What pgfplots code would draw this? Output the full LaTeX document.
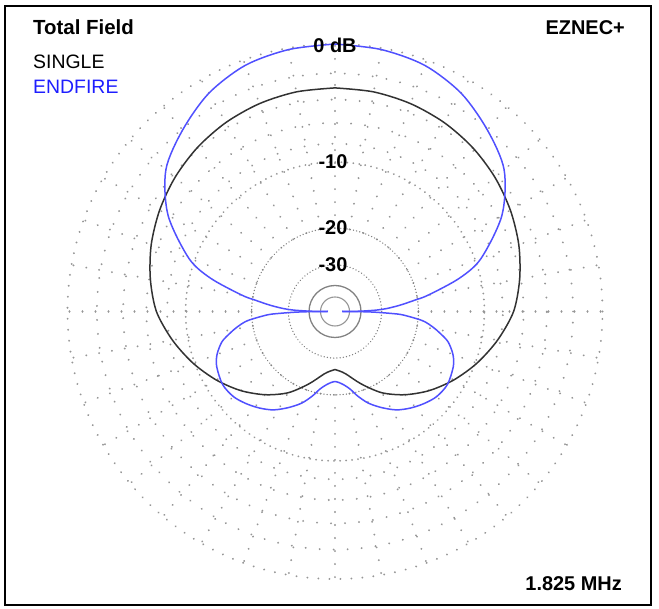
\documentclass[border=0pt]{standalone}
\usepackage{pgfplots}
\pgfplotsset{compat=1.18}
\usepackage{pgfplotstable}
\usepackage{fontspec}
\setmainfont{Liberation Sans}
\definecolor{efblue}{RGB}{80,80,255}
\definecolor{txtblue}{RGB}{30,30,255}
\definecolor{gridgray}{RGB}{150,150,150}
\definecolor{ringgray}{RGB}{130,130,130}
\definecolor{curveblack}{RGB}{50,50,50}

% azimuth (deg, math convention, left half 90..270) and field (dB), ARRL log scale
\pgfplotstableread{
az db
90 -3.08
100 -3.13
110 -3.27
120 -3.50
130 -3.83
140 -4.26
150 -4.78
160 -5.38
170 -6.10
180 -6.94
190 -8.29
200 -9.81
210 -11.48
220 -13.33
230 -15.47
240 -17.98
250 -21.33
260 -24.68
265 -25.65
270 -26.24
}\single

\pgfplotstableread{
az db
90 0.0
100 -0.10
110 -0.36
120 -1.02
130 -2.08
140 -3.30
150 -5.62
160 -9.31
165 -12.52
170 -17.80
172 -20.72
174.5 -24.28
176.7 -28.11
178 -31.78
179 -38.13
179.5 -44.08
180 -62.5
}\endup

\pgfplotstableread{
az db
180 -62.5
180.5 -38.73
181 -32.61
182 -26.69
182.9 -23.51
186 -19.08
189 -17.06
191.6 -15.73
195 -14.19
200 -12.99
205 -12.32
213 -11.86
220 -12.06
226 -12.65
232 -13.40
238 -14.34
244 -15.73
250 -17.32
255 -19.18
259 -20.93
263 -22.05
267 -22.76
270 -23.01
}\endlow

\newcommand\rr{267.5*exp(0.058267*\thisrow{db})}

\begin{document}
\begin{tikzpicture}
\begin{axis}[width=659bp, height=609bp, scale only axis,
  xmin=0, xmax=659, ymin=0, ymax=609, hide axis, clip=false]
\path (axis cs:0,0) rectangle (axis cs:659,609);
% frame
\draw[line width=1.3bp, black] (axis cs:5,4) rectangle (axis cs:651,603);
% radials
\pgfplotsinvokeforeach{0,10,...,350}{
  \draw[shift={(axis cs:335,297.5)}, gridgray, line width=2.1bp, line cap=round,
    dash pattern=on 0.01pt off 13bp] (#1:83.4bp) -- (#1:267.5bp);
}
% rings
\begin{scope}[shift={(axis cs:335,297.5)}]
\draw[gridgray, line width=2.1bp, line cap=round, dash pattern=on 0.01pt off 11bp] (0,0) circle[radius=267.5bp];
\draw[gridgray, line width=2.1bp, line cap=round, dash pattern=on 0.01pt off 14bp] (0,0) circle[radius=238.1bp];
\draw[gridgray, line width=2.1bp, line cap=round, dash pattern=on 0.01pt off 14bp] (0,0) circle[radius=211.9bp];
\draw[gridgray, line width=2.1bp, line cap=round, dash pattern=on 0.01pt off 14bp] (0,0) circle[radius=188.6bp];
\draw[gridgray, line width=2.1bp, line cap=round, dash pattern=on 0.01pt off 14bp] (0,0) circle[radius=167.8bp];
\draw[gridgray, line width=2.0bp, line cap=round, dash pattern=on 0.01pt off 6bp] (0,0) circle[radius=149.4bp];
\draw[ringgray, line width=1.5bp, line cap=round, dash pattern=on 0.01pt off 3.2bp] (0,0) circle[radius=83.4bp];
\draw[ringgray, line width=1.5bp, line cap=round, dash pattern=on 0.01pt off 3.2bp] (0,0) circle[radius=46.6bp];
\draw[ringgray, line width=1.3bp] (0,0) circle[radius=26.0bp];
\draw[gridgray, line width=1.1bp] (0,0) circle[radius=14.5bp];
\end{scope}
% SINGLE
\addplot[curveblack, line width=1.5bp, smooth] table[x expr={335+\rr*cos(\thisrow{az})}, y expr={297.5+\rr*sin(\thisrow{az})}] {\single};
\addplot[curveblack, line width=1.5bp, smooth] table[x expr={335-\rr*cos(\thisrow{az})}, y expr={297.5+\rr*sin(\thisrow{az})}] {\single};
% ENDFIRE
\addplot[efblue, line width=1.5bp, smooth] table[x expr={335+\rr*cos(\thisrow{az})}, y expr={297.5+\rr*sin(\thisrow{az})}] {\endup};
\addplot[efblue, line width=1.5bp, smooth] table[x expr={335-\rr*cos(\thisrow{az})}, y expr={297.5+\rr*sin(\thisrow{az})}] {\endup};
\addplot[efblue, line width=1.5bp, smooth] table[x expr={335+\rr*cos(\thisrow{az})}, y expr={297.5+\rr*sin(\thisrow{az})}] {\endlow};
\addplot[efblue, line width=1.5bp, smooth] table[x expr={335-\rr*cos(\thisrow{az})}, y expr={297.5+\rr*sin(\thisrow{az})}] {\endlow};
% texts
\node[anchor=base west, inner sep=0pt, font=\bfseries\fontsize{20.5}{24}\selectfont] at (axis cs:33,574) {Total Field};
\node[anchor=base west, inner sep=0pt, font=\fontsize{19.5}{23}\selectfont] at (axis cs:33,540) {SINGLE};
\node[anchor=base west, inner sep=0pt, text=txtblue, font=\fontsize{19.5}{23}\selectfont] at (axis cs:33,515) {ENDFIRE};
\node[anchor=base east, inner sep=0pt, font=\bfseries\fontsize{20}{24}\selectfont] at (axis cs:625,574) {EZNEC+};
\node[anchor=base east, inner sep=0pt, font=\bfseries\fontsize{20}{24}\selectfont] at (axis cs:622,19) {1.825 MHz};
\node[inner sep=0pt, font=\bfseries\fontsize{20}{24}\selectfont] at (axis cs:335,564) {0 dB};
\node[inner sep=0pt, font=\bfseries\fontsize{20}{24}\selectfont] at (axis cs:333,447.5) {-10};
\node[inner sep=0pt, font=\bfseries\fontsize{20}{24}\selectfont] at (axis cs:333,381.5) {-20};
\node[inner sep=0pt, font=\bfseries\fontsize{20}{24}\selectfont] at (axis cs:333,344.5) {-30};
\end{axis}
\end{tikzpicture}
\end{document}
